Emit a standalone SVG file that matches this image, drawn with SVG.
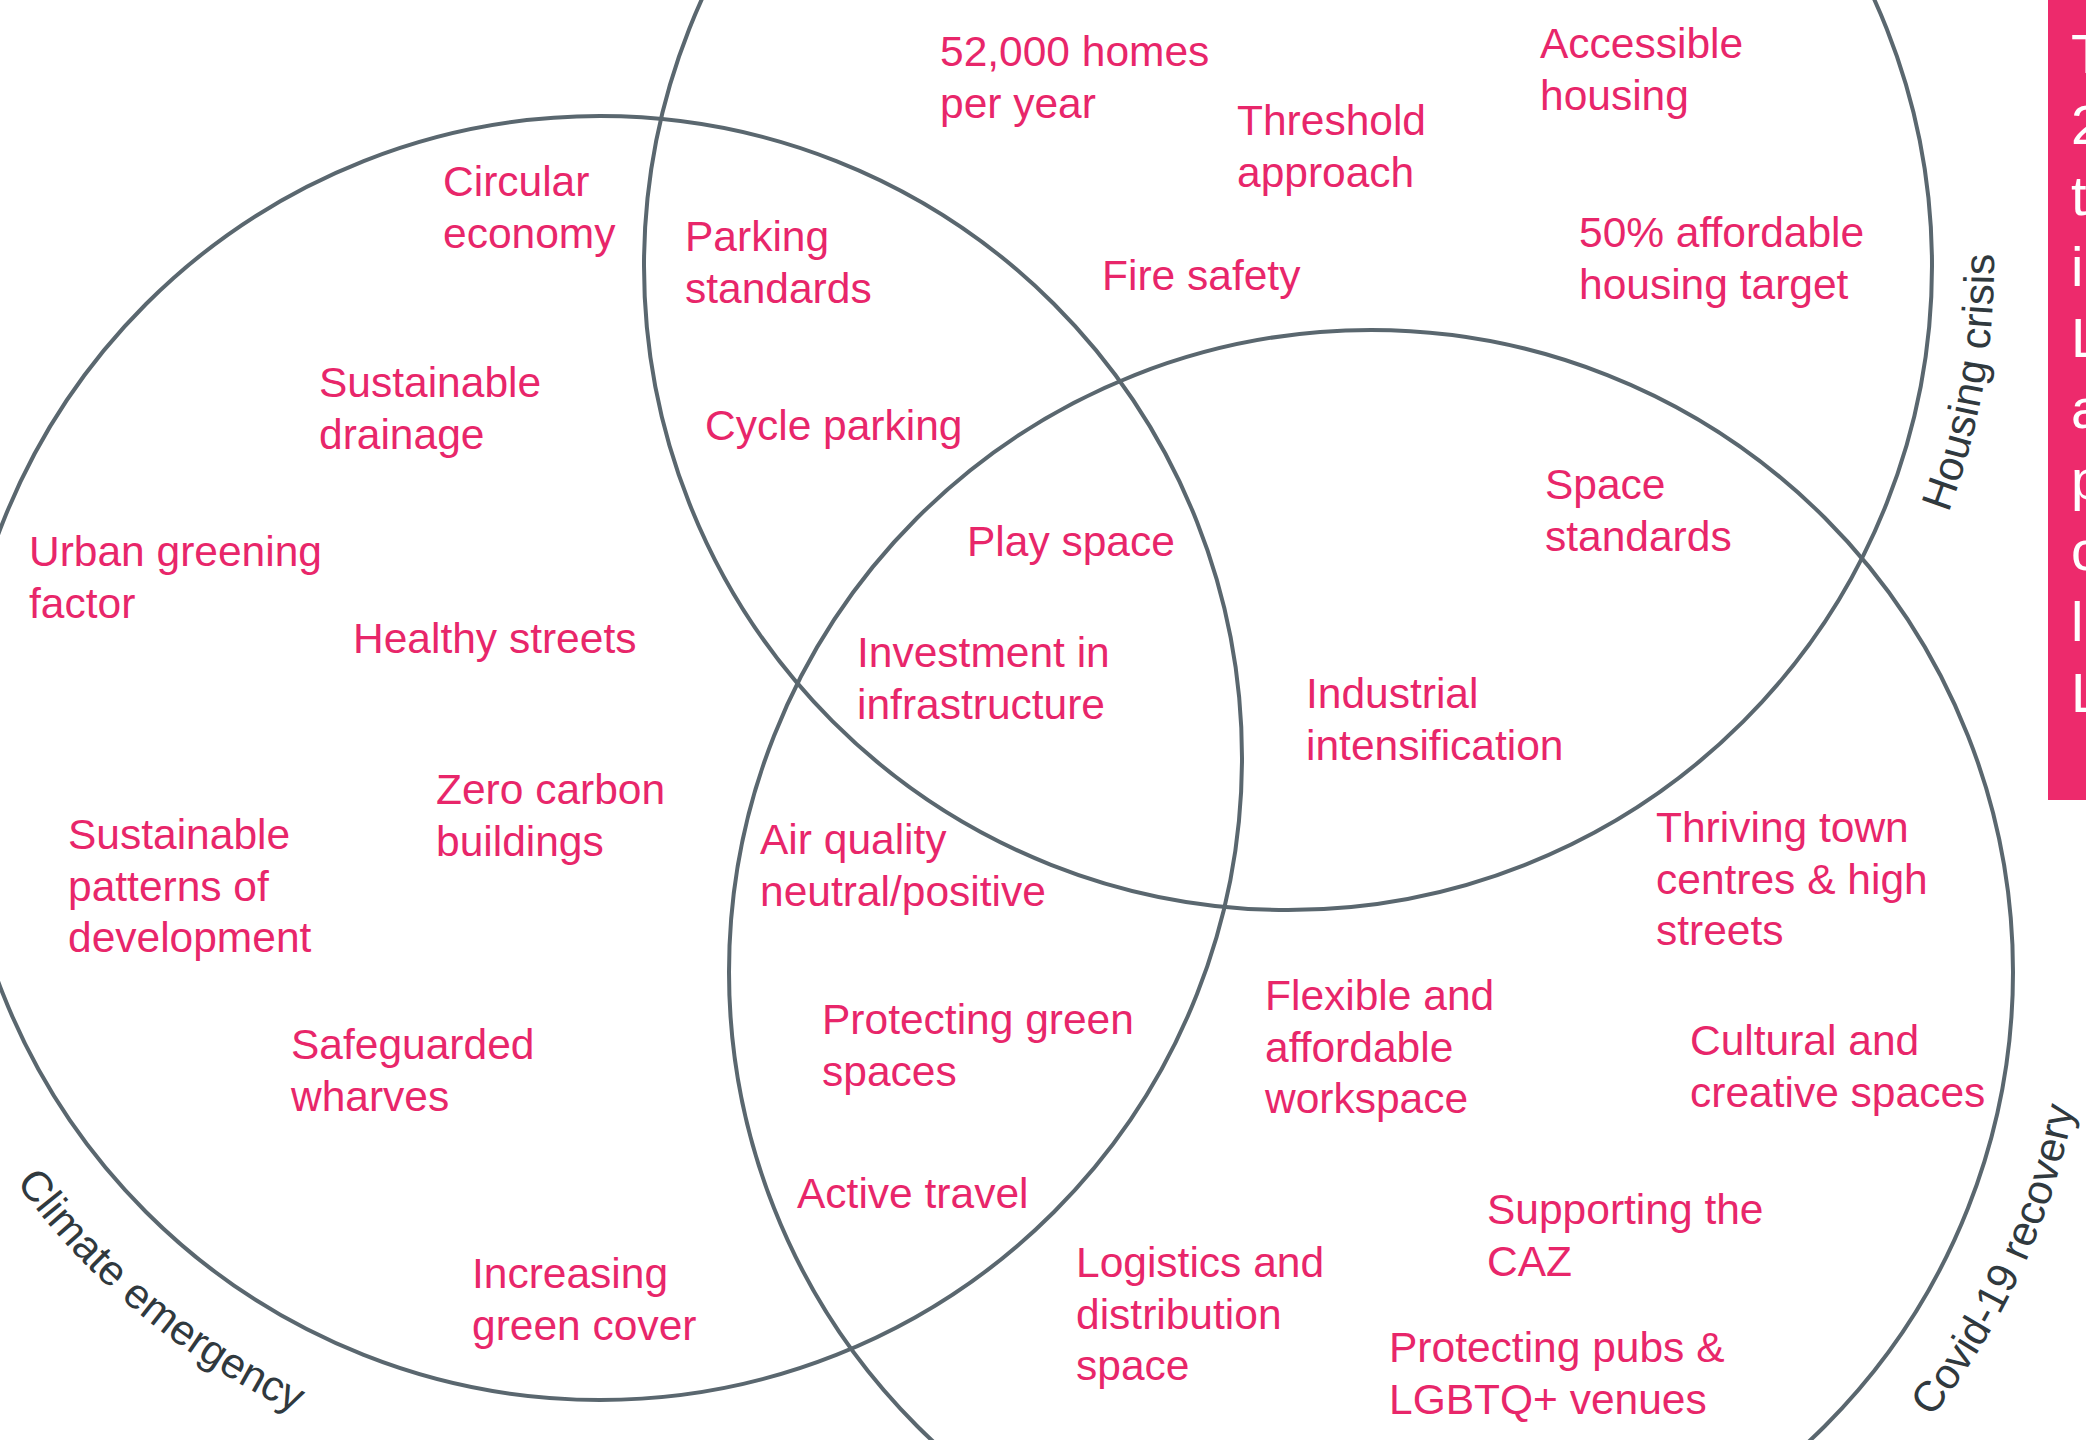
<svg xmlns="http://www.w3.org/2000/svg" xmlns:xlink="http://www.w3.org/1999/xlink" width="2086" height="1440" viewBox="0 0 2086 1440">
<style>
.ring{fill:none;stroke:#5a676f;stroke-width:4}
.lbl{font-family:"Liberation Sans",Arial,Helvetica,sans-serif;font-size:42.5px;fill:#E8266A}
.ttl{font-family:"Liberation Sans",Arial,Helvetica,sans-serif;font-size:42.5px;fill:#30393e}
.box{fill:#ED2A6C}
.boxt{font-family:"Liberation Sans",Arial,Helvetica,sans-serif;font-size:56px;fill:#ffffff}
</style>
<defs>
<path id="pClimate" d="M15.9,1182.4 A722,722 0 0 0 474.6,1469"/>
<path id="pHousing" d="M1948.4,512.9 A705,705 0 0 0 1900.3,-87.5"/>
<path id="pCovid" d="M1931.3,1417.7 A716,716 0 0 0 2076.1,847.7"/>
</defs>
<rect width="2086" height="1440" fill="#ffffff"/>

<g id="climate-emergency">
<circle class="ring" cx="600" cy="758" r="642"/>
<text class="ttl"><textPath xlink:href="#pClimate" href="#pClimate">Climate emergency</textPath></text>
</g>
<g id="housing-crisis">
<circle class="ring" cx="1288" cy="266" r="644"/>
<text class="ttl"><textPath xlink:href="#pHousing" href="#pHousing">Housing crisis</textPath></text>
</g>
<g id="covid-recovery">
<circle class="ring" cx="1371" cy="972" r="642"/>
<text class="ttl"><textPath xlink:href="#pCovid" href="#pCovid">Covid-19 recovery</textPath></text>
</g>

<g id="side-panel">
<rect class="box" x="2048" y="0" width="38" height="800"/>
<text class="boxt" x="2071" y="73">T</text>
<text class="boxt" x="2071" y="144">2</text>
<text class="boxt" x="2071" y="215">t</text>
<text class="boxt" x="2071" y="286">i</text>
<text class="boxt" x="2071" y="357">L</text>
<text class="boxt" x="2071" y="428">a</text>
<text class="boxt" x="2071" y="499">p</text>
<text class="boxt" x="2071" y="570">c</text>
<text class="boxt" x="2071" y="641">l</text>
<text class="boxt" x="2071" y="712">L</text>
</g>

<g id="n-homes"><text class="lbl" x="940" y="66"><tspan x="940">52,000 homes</tspan><tspan x="940" dy="51.5">per year</tspan></text></g>
<g id="n-threshold"><text class="lbl" x="1237" y="135"><tspan x="1237">Threshold</tspan><tspan x="1237" dy="51.5">approach</tspan></text></g>
<g id="n-accessible"><text class="lbl" x="1540" y="58"><tspan x="1540">Accessible</tspan><tspan x="1540" dy="51.5">housing</tspan></text></g>
<g id="n-circular"><text class="lbl" x="443" y="196"><tspan x="443">Circular</tspan><tspan x="443" dy="51.5">economy</tspan></text></g>
<g id="n-parking"><text class="lbl" x="685" y="251"><tspan x="685">Parking</tspan><tspan x="685" dy="51.5">standards</tspan></text></g>
<g id="n-fire"><text class="lbl" x="1102" y="290">Fire safety</text></g>
<g id="n-affordable"><text class="lbl" x="1579" y="247"><tspan x="1579">50% affordable</tspan><tspan x="1579" dy="51.5">housing target</tspan></text></g>
<g id="n-drainage"><text class="lbl" x="319" y="397"><tspan x="319">Sustainable</tspan><tspan x="319" dy="51.5">drainage</tspan></text></g>
<g id="n-cycle"><text class="lbl" x="705" y="440">Cycle parking</text></g>
<g id="n-space-std"><text class="lbl" x="1545" y="499"><tspan x="1545">Space</tspan><tspan x="1545" dy="51.5">standards</tspan></text></g>
<g id="n-play"><text class="lbl" x="967" y="556">Play space</text></g>
<g id="n-urban"><text class="lbl" x="29" y="566"><tspan x="29">Urban greening</tspan><tspan x="29" dy="51.5">factor</tspan></text></g>
<g id="n-healthy"><text class="lbl" x="353" y="653">Healthy streets</text></g>
<g id="n-investment"><text class="lbl" x="857" y="667"><tspan x="857">Investment in</tspan><tspan x="857" dy="51.5">infrastructure</tspan></text></g>
<g id="n-industrial"><text class="lbl" x="1306" y="708"><tspan x="1306">Industrial</tspan><tspan x="1306" dy="51.5">intensification</tspan></text></g>
<g id="n-zero"><text class="lbl" x="436" y="804"><tspan x="436">Zero carbon</tspan><tspan x="436" dy="51.5">buildings</tspan></text></g>
<g id="n-patterns"><text class="lbl" x="68" y="849"><tspan x="68">Sustainable</tspan><tspan x="68" dy="51.5">patterns of</tspan><tspan x="68" dy="51.5">development</tspan></text></g>
<g id="n-air"><text class="lbl" x="760" y="854"><tspan x="760">Air quality</tspan><tspan x="760" dy="51.5">neutral/positive</tspan></text></g>
<g id="n-thriving"><text class="lbl" x="1656" y="842"><tspan x="1656">Thriving town</tspan><tspan x="1656" dy="51.5">centres &amp; high</tspan><tspan x="1656" dy="51.5">streets</tspan></text></g>
<g id="n-flexible"><text class="lbl" x="1265" y="1010"><tspan x="1265">Flexible and</tspan><tspan x="1265" dy="51.5">affordable</tspan><tspan x="1265" dy="51.5">workspace</tspan></text></g>
<g id="n-green-spaces"><text class="lbl" x="822" y="1034"><tspan x="822">Protecting green</tspan><tspan x="822" dy="51.5">spaces</tspan></text></g>
<g id="n-wharves"><text class="lbl" x="291" y="1059"><tspan x="291">Safeguarded</tspan><tspan x="291" dy="51.5">wharves</tspan></text></g>
<g id="n-cultural"><text class="lbl" x="1690" y="1055"><tspan x="1690">Cultural and</tspan><tspan x="1690" dy="51.5">creative spaces</tspan></text></g>
<g id="n-active"><text class="lbl" x="797" y="1208">Active travel</text></g>
<g id="n-caz"><text class="lbl" x="1487" y="1224"><tspan x="1487">Supporting the</tspan><tspan x="1487" dy="51.5">CAZ</tspan></text></g>
<g id="n-logistics"><text class="lbl" x="1076" y="1277"><tspan x="1076">Logistics and</tspan><tspan x="1076" dy="51.5">distribution</tspan><tspan x="1076" dy="51.5">space</tspan></text></g>
<g id="n-green-cover"><text class="lbl" x="472" y="1288"><tspan x="472">Increasing</tspan><tspan x="472" dy="51.5">green cover</tspan></text></g>
<g id="n-pubs"><text class="lbl" x="1389" y="1362"><tspan x="1389">Protecting pubs &amp;</tspan><tspan x="1389" dy="51.5">LGBTQ+ venues</tspan></text></g>
</svg>
